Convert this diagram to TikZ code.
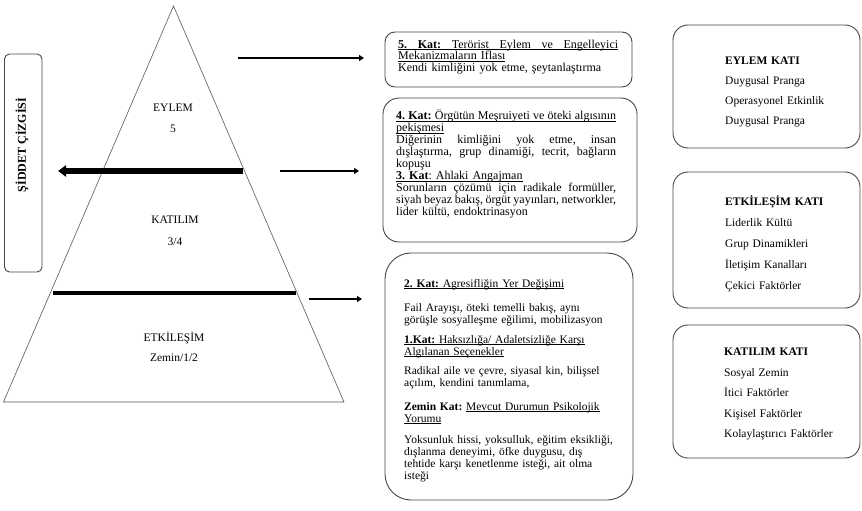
\documentclass[tikz,border=0pt]{standalone}
\usepackage{fontspec}
\setmainfont{Liberation Serif}
\usetikzlibrary{arrows.meta,calc}
\frenchspacing
\newcommand{\jl}[1]{\makebox[\hsize][s]{\spaceskip=0pt\xspaceskip=0pt #1}}
\newcommand{\ul}[1]{\leavevmode\setbox0\hbox{#1}\rlap{\rule[-1.7pt]{\wd0}{0.6pt}}\box0}
\begin{document}
\begin{tikzpicture}[x=1pt,y=-1pt,
  boxline/.style={draw=black!72, line width=0.9pt, inner sep=0pt},
  pyr/.style={draw=black!65, line width=0.6pt},
  lbl/.style={font=\fontsize{11.5}{11.5}\selectfont, inner sep=0pt},
  midtext/.style={anchor=north west, inner sep=0pt, text width=220pt, align=left},
  righttext/.style={anchor=north west, inner sep=0pt, text width=130pt, align=left},
  thinarrow/.style={line width=2.6pt, -{Triangle[length=5pt,width=6pt]}},
  thickarrow/.style={line width=5.5pt, -{Triangle[length=8pt,width=11pt]}}
]
\useasboundingbox (0,0) rectangle (862,511);
\fill[white] (0,0) rectangle (862,511);

% side box
\node[boxline, rounded corners=5pt, minimum width=37.5pt, minimum height=218pt] (side) at (23.25,163) {};
\node[rotate=90, inner sep=0pt, font=\bfseries\fontsize{12}{12}\selectfont] (sidetxt) at (22,145) {ŞİDDET ÇİZGİSİ};

% pyramid
\coordinate (apex) at (173.5,6);
\coordinate (bl) at (3.5,402);
\coordinate (br) at (344,402);
\draw[pyr] (apex) -- (br) -- (bl) -- cycle;

\node[lbl] (eylem) at (173,108) {EYLEM};
\node[lbl] (five) at (173,129) {5};
\node[lbl] (katilim) at (175,220) {KATILIM};
\node[lbl] (threefour) at (175,242) {3/4};
\node[lbl] (etkilesim) at (174,338) {ETKİLEŞİM};
\node[lbl] (zemin) at (174,358) {Zemin/1/2};

% pyramid lines and arrows
\coordinate (la) at (243,171);
\coordinate (lb) at (58,171);
\draw[thickarrow] (la) -- (lb);
\coordinate (ma) at (53,293);
\coordinate (mb) at (296,293);
\draw[line width=4pt] (ma) -- (mb);

\coordinate (r1a) at (238,58);  \coordinate (r1b) at (364,58);
\coordinate (r2a) at (280,171); \coordinate (r2b) at (359,171);
\coordinate (r3a) at (309,299); \coordinate (r3b) at (362,299);
\draw[thinarrow] (r1a) -- (r1b);
\draw[thinarrow] (r2a) -- (r2b);
\draw[thinarrow] (r3a) -- (r3b);

% middle boxes
\node[boxline, rounded corners=10pt, minimum width=247pt, minimum height=55pt] (b5) at (508.5,59.5) {};
\node[boxline, rounded corners=16pt, minimum width=254pt, minimum height=144pt] (b4) at (510,170) {};
\node[boxline, rounded corners=26pt, minimum width=248pt, minimum height=247pt] (b2) at (509,376.5) {};

\node[midtext, font=\fontsize{12}{11.6}\selectfont] (t5) at (398,39.5) {%
\ul{\jl{\textbf{5. Kat:} Terörist Eylem ve Engelleyici}}\\
\ul{Mekanizmaların Iflası}\\
Kendi kimliğini yok etme, şeytanlaştırma};

\node[midtext, font=\fontsize{12}{10.8}\selectfont] (t4) at (396,110) {%
\ul{\jl{\textbf{4. Kat:} Örgütün Meşruiyeti ve öteki algısının}}\\
\ul{pekişmesi}\\
\jl{Diğerinin kimliğini yok etme, insan}\\
\jl{dışlaştırma, grup dinamiği, tecrit, bağların}\\
kopuşu\\
\ul{\textbf{3. Kat}: Ahlaki Angajman}\\
\jl{Sorunların çözümü için radikale formüller,}\\
\jl{siyah beyaz bakış, örgüt yayınları, networkler,}\\
lider kültü, endoktrinasyon};

\begin{scope}[every node/.style={midtext, text width=215pt, font=\fontsize{11.5}{12.2}\selectfont}]
\node (p2) at (404,279) {\ul{\textbf{2. Kat:} Agresifliğin Yer Değişimi}};
\node (p2b) at (404,303) {Fail Arayışı, öteki temelli bakış, aynı\\görüşle sosyalleşme eğilimi, mobilizasyon};
\node (p1) at (404,335) {\ul{\textbf{1.Kat:} Haksızlığa/ Adaletsizliğe Karşı}\\\ul{Algılanan Seçenekler}};
\node (p1b) at (404,366) {Radikal aile ve çevre, siyasal kin, bilişsel\\açılım, kendini tanımlama,};
\node (p0) at (404,402) {\textbf{Zemin Kat:} \ul{Mevcut Durumun Psikolojik}\\\ul{Yorumu}};
\node (p0b) at (404,435) {Yoksunluk hissi, yoksulluk, eğitim eksikliği,\\dışlanma deneyimi, öfke duygusu, dış\\tehtide karşı kenetlenme isteği, ait olma\\isteği};
\end{scope}

% right boxes
\node[boxline, rounded corners=15pt, minimum width=187pt, minimum height=123pt] (ra) at (766.5,86.5) {};
\node[boxline, rounded corners=15pt, minimum width=187pt, minimum height=136pt] (rb) at (766.5,240) {};
\node[boxline, rounded corners=15pt, minimum width=187pt, minimum height=133pt] (rc) at (766.5,391.5) {};

\node[righttext, font=\fontsize{11.5}{20}\selectfont] (ta) at (725,57) {%
\textbf{EYLEM KATI}\\Duygusal Pranga\\Operasyonel Etkinlik\\Duygusal Pranga};
\node[righttext, font=\fontsize{11.5}{21}\selectfont] (tb) at (725,195) {%
\textbf{ETKİLEŞİM KATI}\\Liderlik Kültü\\Grup Dinamikleri\\İletişim Kanalları\\Çekici Faktörler};
\node[righttext, font=\fontsize{11.5}{20.5}\selectfont] (tc) at (724,348) {%
\textbf{KATILIM KATI}\\Sosyal Zemin\\İtici Faktörler\\Kişisel Faktörler\\Kolaylaştırıcı Faktörler};
\end{tikzpicture}
\end{document}
